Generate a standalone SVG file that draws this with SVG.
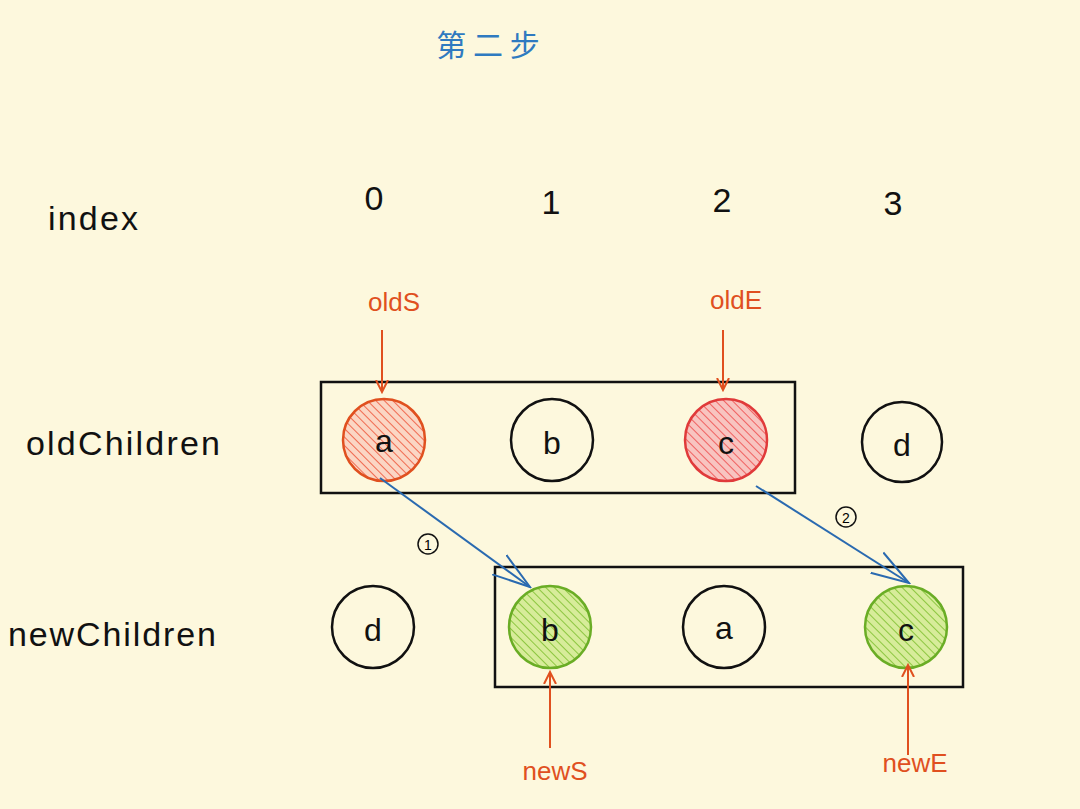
<svg xmlns="http://www.w3.org/2000/svg" width="1080" height="809" viewBox="0 0 1080 809">
<style>
text{font-family:"Liberation Sans",sans-serif}
.lbl{font-size:34px;fill:#111}
.idx{font-size:34px;fill:#111;text-anchor:middle}
.ptr{font-size:26px;fill:#e0501f;text-anchor:middle}
.nt{font-size:32px;fill:#111;text-anchor:middle}
.box{fill:none;stroke:#111;stroke-width:2.5}
.c{stroke:#111;stroke-width:2.5;fill:none}
.red{stroke:#e0501f;stroke-width:2.5;fill:url(#hr)}
.pink{stroke:#e03a3a;stroke-width:2.5;fill:url(#hp)}
.grn{stroke:#6aad25;stroke-width:2.5;fill:url(#hg)}
.pa{stroke:#e0501f;stroke-width:2;fill:none;marker-end:url(#ao)}
.ba{stroke:#2a6ab0;stroke-width:2;fill:none;marker-end:url(#ab)}
</style>
<defs>
<pattern id="hr" width="6" height="6" patternUnits="userSpaceOnUse" patternTransform="rotate(-45)"><rect width="6" height="6" fill="#fbd6c4"/><line x1="0" y1="0" x2="0" y2="6" stroke="#f06a50" stroke-width="2"/></pattern>
<pattern id="hp" width="6" height="6" patternUnits="userSpaceOnUse" patternTransform="rotate(-45)"><rect width="6" height="6" fill="#f8c4c0"/><line x1="0" y1="0" x2="0" y2="6" stroke="#f06060" stroke-width="2"/></pattern>
<pattern id="hg" width="6" height="6" patternUnits="userSpaceOnUse" patternTransform="rotate(-45)"><rect width="6" height="6" fill="#d7ec9a"/><line x1="0" y1="0" x2="0" y2="6" stroke="#8cc640" stroke-width="2"/></pattern>
<marker id="ao" markerWidth="14" markerHeight="14" refX="12" refY="7" orient="auto" markerUnits="userSpaceOnUse"><path d="M0,1 L12,7 L0,13" fill="none" stroke="#e0501f" stroke-width="2"/></marker>
<marker id="ab" markerWidth="40" markerHeight="30" refX="38" refY="15" orient="auto" markerUnits="userSpaceOnUse"><path d="M0,3 L38,15 L0,27" fill="none" stroke="#2a6ab0" stroke-width="2"/></marker>
</defs>
<rect width="1080" height="809" fill="#fdf8dd"/>
<text x="488" y="56" font-size="30" fill="#2f7ac0" text-anchor="middle" style="font-family:'Noto Sans CJK SC',sans-serif">第 二 步</text>
<g id="labels">
<text class="lbl" x="48" y="230" textLength="90">index</text>
<text class="lbl" x="26" y="455" textLength="194">oldChildren</text>
<text class="lbl" x="8" y="646" textLength="208">newChildren</text>
<text class="idx" x="374" y="210">0</text>
<text class="idx" x="551" y="214">1</text>
<text class="idx" x="722" y="212">2</text>
<text class="idx" x="893" y="215">3</text>
</g>
<g id="oldBox"><rect class="box" x="321" y="382" width="474" height="111"/></g>
<g id="newBox"><rect class="box" x="495" y="567" width="468" height="120"/></g>
<g id="old-a"><circle class="red" cx="384" cy="440" r="41"/><text class="nt" x="384" y="452">a</text></g>
<g id="old-b"><circle class="c" cx="552" cy="440" r="41"/><text class="nt" x="552" y="454">b</text></g>
<g id="old-c"><circle class="pink" cx="726" cy="440" r="41"/><text class="nt" x="726" y="454">c</text></g>
<g id="old-d"><circle class="c" cx="902" cy="442" r="40"/><text class="nt" x="902" y="456">d</text></g>
<g id="new-d"><circle class="c" cx="373" cy="627" r="41"/><text class="nt" x="373" y="641">d</text></g>
<g id="new-b"><circle class="grn" cx="550" cy="627" r="41"/><text class="nt" x="550" y="641">b</text></g>
<g id="new-a"><circle class="c" cx="724" cy="627" r="41"/><text class="nt" x="724" y="639">a</text></g>
<g id="new-c"><circle class="grn" cx="906" cy="627" r="41"/><text class="nt" x="906" y="641">c</text></g>
<g id="ptrs">
<text class="ptr" x="394" y="311">oldS</text>
<text class="ptr" x="736" y="309">oldE</text>
<text class="ptr" x="555" y="780">newS</text>
<text class="ptr" x="915" y="772">newE</text>
<circle cx="428" cy="544" r="10" fill="none" stroke="#111" stroke-width="1.5"/><text x="428" y="550" font-size="14" text-anchor="middle">1</text>
<circle cx="846" cy="517" r="10" fill="none" stroke="#111" stroke-width="1.5"/><text x="846" y="523" font-size="14" text-anchor="middle">2</text>
</g>
<g id="connectors">
<path class="pa" d="M382,330 L382,392"/>
<path class="pa" d="M723,330 L723,390"/>
<path class="pa" d="M550,748 L550,672"/>
<path class="pa" d="M908,755 L908,665"/>
<path class="ba" d="M380,478 L530,587"/>
<path class="ba" d="M756,486 L909,583"/>
</g>
</svg>
